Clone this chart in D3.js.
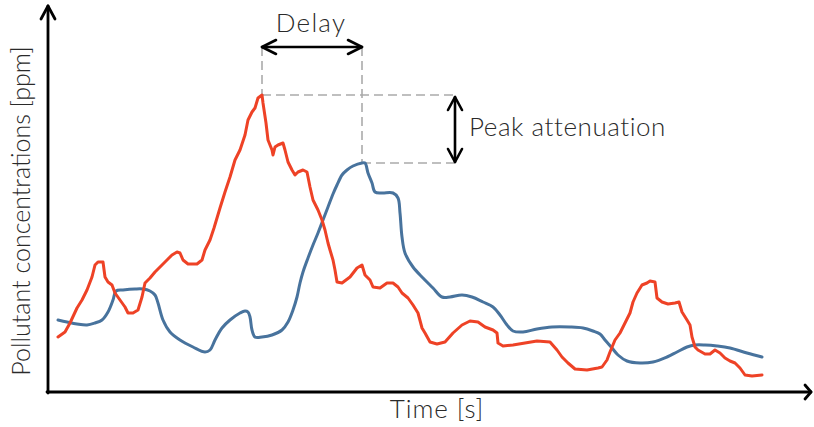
<!DOCTYPE html>
<html>
<head>
<meta charset="utf-8">
<script src="https://cdn.jsdelivr.net/npm/d3@7"></script>
<style>
  html, body { margin: 0; padding: 0; background: #fff; }
  svg text { font-family: "Lato", "Open Sans", "Noto Sans", sans-serif; font-weight: 300; fill: #2a2a2a; }
</style>
</head>
<body>
<svg id="chart" width="814" height="427"></svg>
<script>
// Inflow concentration (red): time [s], concentration [ppm]
const inflowTime = [10,17,22,29,34,39,44,47,50,55,57,60,64,67,72,77,80,85,90,94,97,102,107,112,117,124,129,132,135,140,149,154,157,162,166,172,177,182,187,192,197,200,204,207,210,214,215,218,220,224,225,227,230,235,237,240,244,247,250,255,259,262,265,270,274,277,280,282,285,287,289,294,302,309,314,317,322,325,332,339,345,350,354,360,365,370,374,377,382,389,397,405,414,422,430,437,445,449,450,455,465,477,489,502,509,514,520,527,539,550,554,559,562,567,572,577,582,585,589,594,599,602,607,609,614,620,627,631,634,639,642,644,647,650,657,662,667,672,677,682,687,692,697,704,714];
const inflowConc = [56,61,70,85,93,103,116,128,131,131,116,111,108,100,93,86,80,80,83,96,110,115,121,126,131,138,141,140,133,129,129,133,143,153,165,185,201,216,233,243,258,273,281,285,295,298,290,270,253,243,238,246,248,250,243,231,223,218,221,223,221,206,193,183,173,163,150,143,133,123,111,110,116,125,128,118,113,106,105,110,110,106,100,95,88,80,65,60,51,49,51,60,68,72,71,66,63,60,50,47,48,50,52,51,43,36,30,24,23,25,26,33,41,53,60,70,80,91,100,108,110,112,111,95,91,89,90,91,81,73,68,56,46,43,39,39,43,40,35,32,30,25,18,17,18];

// Outflow concentration (blue): time [s], concentration [ppm]
const outflowTime = [10,19,29,39,47,54,60,65,68,75,87,95,102,107,110,115,122,132,145,157,162,167,174,182,192,197,200,202,204,207,214,224,234,240,245,249,252,255,260,265,270,275,280,285,289,294,299,305,314,317,320,324,327,334,345,350,352,354,357,365,375,385,394,402,414,424,435,445,452,459,465,475,489,504,522,535,545,552,557,564,570,579,592,605,619,629,639,647,657,669,682,699,714];
const outflowConc = [73,71,69,68,70,73,81,93,102,103,104,104,102,98,90,73,61,53,46,41,43,53,65,73,80,82,81,76,63,56,56,58,63,71,83,96,110,121,135,148,160,173,186,199,208,218,223,227,230,230,220,210,201,200,200,195,180,156,140,126,115,105,96,96,98,96,91,86,78,68,62,61,64,66,66,65,62,59,53,45,38,32,30,31,36,41,46,48,48,47,45,40,36];

const axisTitleX = "Time [s]";
const axisTitleY = "Pollutant concentrations [ppm]";
const delayLabel = "Delay";
const attenuationLabel = "Peak attenuation";

const inflow = inflowTime.map((t, i) => ({ t, c: inflowConc[i] }));
const outflow = outflowTime.map((t, i) => ({ t, c: outflowConc[i] }));

const svg = d3.select("#chart");
const origin = { x: 48, y: 392 };

const x = d3.scaleLinear().domain([0, 764]).range([origin.x, origin.x + 764]);
const y = d3.scaleLinear().domain([0, 380]).range([origin.y + 1, origin.y + 1 - 380]);

const red = "#ee4226";
const blue = "#48739d";

// Axes with open arrowheads
const axisG = svg.append("g").attr("stroke", "#000").attr("fill", "none")
  .attr("stroke-width", 2.8).attr("stroke-linecap", "round").attr("stroke-linejoin", "round");
axisG.append("line").attr("x1", origin.x).attr("y1", origin.y + 1).attr("x2", origin.x).attr("y2", 6);
axisG.append("path").attr("d", `M${origin.x - 7},19 L${origin.x},6 L${origin.x + 7},19`);
axisG.append("line").attr("x1", origin.x - 1).attr("y1", origin.y).attr("x2", 811).attr("y2", origin.y);
axisG.append("path").attr("d", `M805,385 L811,${origin.y} L805,399`);

// Peak markers
const redPeak = inflow.reduce((a, b) => (b.c > a.c ? b : a));
const bluePeak = outflow.reduce((a, b) => (b.c > a.c ? b : a));
const arrowY = 47;
const attnX = 455;

const dash = svg.append("g").attr("stroke", "#ababab").attr("stroke-width", 1.6)
  .attr("stroke-dasharray", "9,5").attr("fill", "none");
dash.append("line").attr("x1", x(redPeak.t)).attr("x2", x(redPeak.t)).attr("y1", arrowY).attr("y2", y(redPeak.c));
dash.append("line").attr("x1", x(bluePeak.t)).attr("x2", x(bluePeak.t)).attr("y1", arrowY).attr("y2", y(bluePeak.c));
dash.append("line").attr("x1", x(redPeak.t)).attr("x2", attnX).attr("y1", y(redPeak.c)).attr("y2", y(redPeak.c));
dash.append("line").attr("x1", x(bluePeak.t)).attr("x2", attnX).attr("y1", y(bluePeak.c)).attr("y2", y(bluePeak.c));

// Series lines
svg.append("path").datum(outflow)
  .attr("fill", "none").attr("stroke", blue).attr("stroke-width", 3)
  .attr("stroke-linejoin", "round").attr("stroke-linecap", "round")
  .attr("d", d3.line().x(d => x(d.t)).y(d => y(d.c)).curve(d3.curveCatmullRom.alpha(0.5)));

svg.append("path").datum(inflow)
  .attr("fill", "none").attr("stroke", red).attr("stroke-width", 3)
  .attr("stroke-linejoin", "round").attr("stroke-linecap", "round")
  .attr("d", d3.line().x(d => x(d.t)).y(d => y(d.c)).curve(d3.curveLinear));

// Double-headed arrows
const arr = svg.append("g").attr("stroke", "#000").attr("stroke-width", 2.6).attr("fill", "none")
  .attr("stroke-linecap", "round").attr("stroke-linejoin", "round");
const x1 = x(redPeak.t), x2 = x(bluePeak.t);
arr.append("line").attr("x1", x1).attr("x2", x2).attr("y1", arrowY).attr("y2", arrowY);
arr.append("path").attr("d", `M${x1 + 14},${arrowY - 7} L${x1},${arrowY} L${x1 + 14},${arrowY + 7}`);
arr.append("path").attr("d", `M${x2 - 14},${arrowY - 7} L${x2},${arrowY} L${x2 - 14},${arrowY + 7}`);
const ya = y(redPeak.c) + 2, yb = y(bluePeak.c) - 1;
arr.append("line").attr("x1", attnX).attr("x2", attnX).attr("y1", ya).attr("y2", yb);
arr.append("path").attr("d", `M${attnX - 7},${ya + 13} L${attnX},${ya} L${attnX + 7},${ya + 13}`);
arr.append("path").attr("d", `M${attnX - 7},${yb - 13} L${attnX},${yb} L${attnX + 7},${yb - 13}`);

// Labels
svg.append("text").attr("x", (x1 + x2) / 2 - 1).attr("y", 32).attr("text-anchor", "middle")
  .attr("font-size", 26).attr("letter-spacing", 1.2).text(delayLabel);
svg.append("text").attr("x", 469).attr("y", 136).attr("font-size", 26)
  .attr("letter-spacing", 0.55).text(attenuationLabel);
svg.append("text").attr("x", 437).attr("y", 418).attr("text-anchor", "middle")
  .attr("font-size", 26).attr("letter-spacing", 0.9).text(axisTitleX);
svg.append("text").attr("transform", "translate(30,211) rotate(-90)").attr("text-anchor", "middle")
  .attr("font-size", 25).text(axisTitleY);
</script>
</body>
</html>
